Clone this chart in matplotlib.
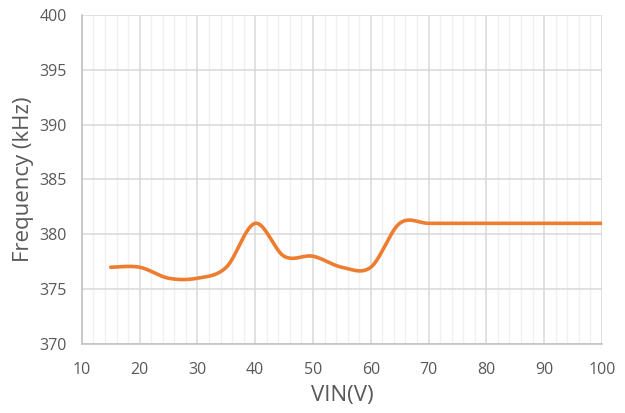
import matplotlib
matplotlib.use("Agg")
import matplotlib.pyplot as plt
import numpy as np
from matplotlib.ticker import MultipleLocator

vin = [15, 20, 25, 30, 35, 40, 45, 50, 55, 60, 65, 70, 75, 80, 85, 90, 95, 100]
freq = [377, 377, 376, 376, 377, 381, 378, 378, 377, 377, 381, 381, 381, 381, 381, 381, 381, 381]

def smooth(xs, ys, n=40):
    xs = np.asarray(xs, float); ys = np.asarray(ys, float)
    P = np.column_stack([xs, ys])
    out = []
    for i in range(len(P) - 1):
        p0 = P[i - 1] if i > 0 else P[i]
        p1 = P[i]; p2 = P[i + 1]
        p3 = P[i + 2] if i + 2 < len(P) else P[i + 1]
        c1 = p1 + (p2 - p0) / 6.0
        c2 = p2 - (p3 - p1) / 6.0
        t = np.linspace(0, 1, n)[:, None]
        seg = (1 - t) ** 3 * p1 + 3 * (1 - t) ** 2 * t * c1 + 3 * (1 - t) * t ** 2 * c2 + t ** 3 * p2
        out.append(seg if i == 0 else seg[1:])
    S = np.vstack(out)
    return S[:, 0], S[:, 1]

plt.rcParams['font.family'] = ['Open Sans', 'DejaVu Sans']
fig = plt.figure(figsize=(6.25, 4.13), dpi=100)
ax = fig.add_axes([0.131, 0.167, 0.832, 0.797])

sx, sy = smooth(vin, freq)
ax.plot(sx, sy, color='#ED7D31', lw=2.6, solid_capstyle='round', zorder=3)

ax.set_xlim(10, 100)
ax.set_ylim(370, 400)
ax.xaxis.set_major_locator(MultipleLocator(10))
ax.xaxis.set_minor_locator(MultipleLocator(2))
ax.yaxis.set_major_locator(MultipleLocator(5))
ax.grid(which='major', axis='both', color='#D9D9D9', lw=1.1, zorder=1)
ax.grid(which='minor', axis='x', color='#F0F0F0', lw=1.0, zorder=0)
ax.set_axisbelow(True)
for s in ['top', 'right']:
    ax.spines[s].set_visible(False)
for s in ['left', 'bottom']:
    ax.spines[s].set_color('#BFBFBF')
    ax.spines[s].set_linewidth(1.1)
ax.tick_params(which='both', length=0, labelsize=11.5, labelcolor='#595959')
ax.tick_params(axis='x', pad=13)
ax.tick_params(axis='y', pad=11)
ax.set_xlabel('VIN(V)', fontsize=16, color='#595959', labelpad=5)
ax.set_ylabel('Frequency (kHz)', fontsize=16, color='#595959', labelpad=4)
fig.savefig('out.png', dpi=100)
